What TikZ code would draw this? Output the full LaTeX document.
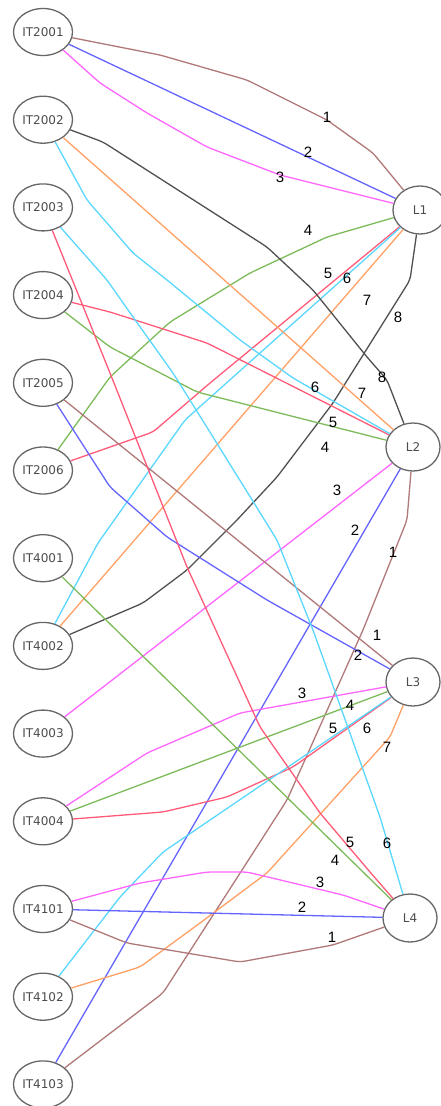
\documentclass[tikz,border=0pt]{standalone}
\usepackage{fontspec}
\setsansfont{DejaVu Sans}
\newfontfamily\lblfont{Liberation Sans}
\usetikzlibrary{shapes.geometric,positioning}

\definecolor{cbrown}{HTML}{B07878}
\definecolor{cblue}{HTML}{6464FF}
\definecolor{cpink}{HTML}{FF66FF}
\definecolor{cgreen}{HTML}{7DBB5A}
\definecolor{cred}{HTML}{FF5A78}
\definecolor{ccyan}{HTML}{5AD7FF}
\definecolor{corange}{HTML}{FFA064}
\definecolor{cgrey}{HTML}{505050}

\tikzset{
  subj/.style={ellipse,draw=black!60,line width=1.3pt,minimum width=59pt,minimum height=47pt,
    inner sep=0pt,text=black!70,font=\sffamily\fontsize{12}{12}\selectfont},
  slot/.style={subj,minimum width=54pt,minimum height=48pt},
  lbl/.style={inner sep=0pt,text=black,font=\lblfont\fontsize{15}{15}\selectfont},
  e1/.style={draw=cbrown}, e2/.style={draw=cblue}, e3/.style={draw=cpink},
  e4/.style={draw=cgreen}, e5/.style={draw=cred}, e6/.style={draw=ccyan},
  e7/.style={draw=corange}, e8/.style={draw=cgrey}
}

\begin{document}
\begin{tikzpicture}[x=1pt,y=-1pt,node distance=87.7pt,on grid,line width=1.3pt,rounded corners=5pt]
	\useasboundingbox (0,0) rectangle (441,1106);
	% courses
	\node[subj] (it2001) at (43,32) {IT2001};
	\node[subj] (it2002) [below=of it2001] {IT2002};
	\node[subj] (it2003) [below=of it2002] {IT2003};
	\node[subj] (it2004) [below=of it2003] {IT2004};
	\node[subj] (it2005) [below=of it2004] {IT2005};
	\node[subj] (it2006) [below=of it2005] {IT2006};
	\node[subj] (it4001) [below=of it2006] {IT4001};
	\node[subj] (it4002) [below=of it4001] {IT4002};
	\node[subj] (it4003) [below=of it4002] {IT4003};
	\node[subj] (it4004) [below=of it4003] {IT4004};
	\node[subj] (it4101) [below=of it4004] {IT4101};
	\node[subj] (it4102) [below=of it4101] {IT4102};
	\node[subj] (it4103) [below=of it4102] {IT4103};
	% lecturers
	\node[slot] (l1) at (420,210) {L1};
	\node[slot] (l2) at (413,447) {L2};
	\node[slot] (l3) at (413,682) {L3};
	\node[slot] (l4) at (410,918) {L4};

	% L1
	\draw[e1] (it2001) -- (160,55) -- (247,80) -- (327,120) -- (373,153) -- (l1) node[lbl] at (327,117) {1};
	\draw[e2] (it2001) -- (l1) node[lbl] at (308,152) {2};
	\draw[e3] (it2001) -- (100,83) -- (147,113) -- (207,147) -- (280,175) -- (l1) node[lbl] at (280,177) {3};
	\draw[e4] (it2006) -- (110,377) -- (170,322) -- (250,273) -- (327,237) -- (l1) node[lbl] at (308,230) {4};
	\draw[e5] (it2006) -- (153,432) -- (210,383) -- (l1) node[lbl] at (328,273) {5};
	\draw[e6] (it4002) -- (98,543) -- (185,420) -- (l1) node[lbl] at (347,278) {6};
	\draw[e7] (it4002) -- (l1) node[lbl] at (367,300) {7};
	\draw[e8] (it4002) -- (143,603) -- (187,570) -- (237,520) -- (277,477) -- (333,403) -- (410,280) -- (l1) node[lbl] at (398,317) {8};

	% L2
	\draw[e1] (it4103) -- (163,993) -- (287,800) -- (363,630) -- (407,520) -- (l2) node[lbl] at (393,552) {1};
	\draw[e2] (it4103) -- (l2) node[lbl] at (355,530) {2};
	\draw[e3] (it4003) -- (l2) node[lbl] at (337,490) {3};
	\draw[e4] (it2004) -- (110,347) -- (197,392) -- (l2) node[lbl] at (325,447) {4};
	\draw[e5] (it2004) -- (110,312) -- (207,343) -- (l2) node[lbl] at (333,422) {5};
	\draw[e6] (it2002) -- (87,200) -- (133,253) -- (167,280) -- (240,340) -- (293,378) -- (l2) node[lbl] at (315,387) {6};
	\draw[e7] (it2002) -- (l2) node[lbl] at (362,393) {7};
	\draw[e8] (it2002) -- (103,142) -- (267,247) -- (313,290) -- (367,357) -- (387,380) -- (l2) node[lbl] at (382,377) {8};

	% L3
	\draw[e1] (it2005) -- (l3) node[lbl] at (377,635) {1};
	\draw[e2] (it2005) -- (110,487) -- (167,537) -- (267,600) -- (l3) node[lbl] at (358,655) {2};
	\draw[e3] (it4004) -- (147,753) -- (240,713) -- (l3) node[lbl] at (302,693) {3};
	\draw[e4] (it4004) -- (l3) node[lbl] at (350,705) {4};
	\draw[e5] (it4004) -- (163,812) -- (227,797) -- (293,767) -- (l3) node[lbl] at (333,728) {5};
	\draw[e6] (it4102) -- (120,897) -- (163,852) -- (l3) node[lbl] at (367,728) {6};
	\draw[e7] (it4102) -- (140,967) -- (200,923) -- (267,873) -- (390,737) -- (l3) node[lbl] at (387,747) {7};

	% L4
	\draw[e1] (it4101) -- (127,943) -- (240,962) -- (333,945) -- (l4) node[lbl] at (332,937) {1};
	\draw[e2] (it4101) -- (l4) node[lbl] at (302,907) {2};
	\draw[e3] (it4101) -- (140,883) -- (207,872) -- (247,872) -- (343,895) -- (l4) node[lbl] at (320,882) {3};
	\draw[e4] (it4001) -- (l4) node[lbl] at (335,860) {4};
	\draw[e5] (it2003) -- (110,373) -- (187,567) -- (260,727) -- (320,813) -- (370,872) -- (l4) node[lbl] at (350,842) {5};
	\draw[e6] (it2003) -- (107,280) -- (133,317) -- (173,373) -- (213,437) -- (277,540) -- (313,630) -- (380,817) -- (l4) node[lbl] at (387,843) {6};
\end{tikzpicture}
\end{document}
